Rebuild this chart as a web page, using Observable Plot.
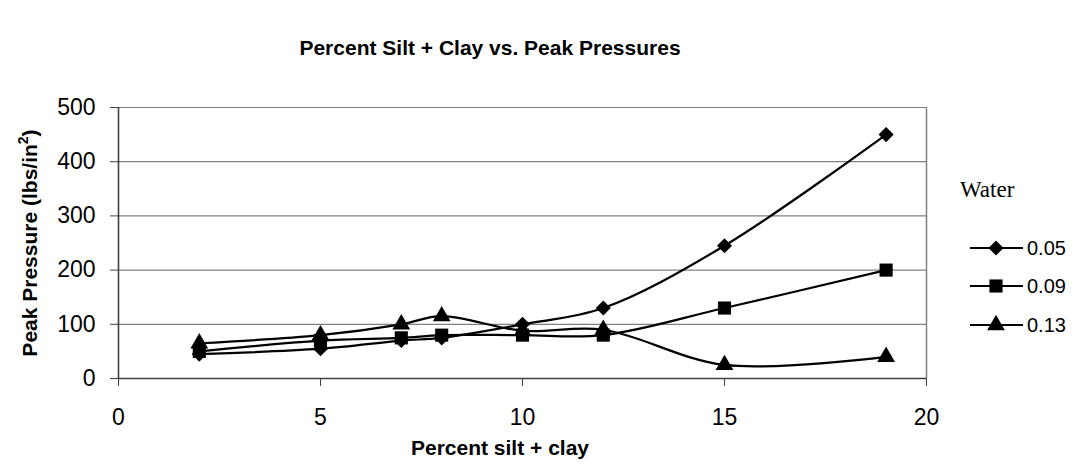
<!DOCTYPE html>
<html>
<head>
<meta charset="utf-8">
<script src="https://cdn.jsdelivr.net/npm/d3@7"></script>
<script src="https://cdn.jsdelivr.net/npm/@observablehq/plot@0.6"></script>
<style>
  html, body { margin: 0; padding: 0; background: white; }
  #wrap { position: relative; width: 1090px; height: 468px; }
</style>
</head>
<body>
<div id="wrap"></div>
<script>
// ---- data ----
const silt = [2, 5, 7, 8, 10, 12, 15, 19];
const water005 = [45, 55, 70, 75, 100, 130, 245, 450];
const water009 = [50, 70, 75, 80, 80, 80, 130, 200];
const water013 = [65, 80, 100, 115, 88, 90, 25, 40];
const seriesNames = ["0.05", "0.09", "0.13"];
const seriesSymbols = ["diamond2", "square", "triangle"];
const xTicks = [0, 5, 10, 15, 20];
const yTicks = [0, 100, 200, 300, 400, 500];

const seriesValues = [water005, water009, water013];
const rows = [];
seriesNames.forEach((name, i) => {
  silt.forEach((x, j) => rows.push({ series: name, x, y: seriesValues[i][j] }));
});

const sans = "'Liberation Sans', Arial, sans-serif";
const serif = "'Liberation Serif', 'Times New Roman', serif";
const radius = { "0.05": 6.8, "0.09": 7.4, "0.13": 6.6 };

const chart = Plot.plot({
  width: 1090,
  height: 468,
  marginLeft: 118,
  marginRight: 164,
  marginTop: 107,
  marginBottom: 90,
  style: { fontFamily: sans, fontSize: "23px", color: "black", background: "white", overflow: "visible" },
  x: { domain: [0, 20], label: null },
  y: { domain: [0, 500], label: null },
  r: { type: "identity" },
  symbol: { domain: seriesNames, range: seriesSymbols },
  marks: [
    Plot.ruleY(yTicks.slice(1), { stroke: "#808080", strokeWidth: 1.2 }),
    Plot.ruleX([20], { stroke: "#808080", strokeWidth: 1.5 }),
    Plot.ruleY([0], { stroke: "#404040", strokeWidth: 1.6 }),
    Plot.ruleX([0], { stroke: "#404040", strokeWidth: 1.6 }),
    Plot.axisX({ ticks: xTicks, tickSize: 8, tickPadding: 22, tickFormat: d3.format("d"), stroke: "#404040", fontSize: 23 }),
    Plot.axisY({ ticks: yTicks, tickSize: 8, tickPadding: 15, tickFormat: d3.format("d"), stroke: "#404040", fontSize: 23 }),
    Plot.line(rows, { x: "x", y: "y", z: "series", curve: "catmull-rom", stroke: "black", strokeWidth: 2.2 }),
    Plot.dot(rows, { x: "x", y: "y", symbol: "series", r: d => radius[d.series], fill: "black", stroke: "none" })
  ]
});

document.getElementById("wrap").appendChild(chart);
const svg = d3.select(chart);

// title
svg.append("text")
  .attr("x", 490).attr("y", 55)
  .attr("text-anchor", "middle")
  .attr("font-family", sans).attr("font-weight", "bold").attr("font-size", 21)
  .attr("fill", "black")
  .text("Percent Silt + Clay vs. Peak Pressures");

// x axis title
svg.append("text")
  .attr("x", 500).attr("y", 455)
  .attr("text-anchor", "middle")
  .attr("font-family", sans).attr("font-weight", "bold").attr("font-size", 21)
  .attr("fill", "black")
  .text("Percent silt + clay");

// y axis title
const yt = svg.append("text")
  .attr("transform", "translate(37,243) rotate(-90)")
  .attr("text-anchor", "middle")
  .attr("font-family", sans).attr("font-weight", "bold").attr("font-size", 21)
  .attr("fill", "black");
yt.append("tspan").text("Peak Pressure (lbs/in");
yt.append("tspan").attr("font-size", 14).attr("dy", -9).text("2");
yt.append("tspan").attr("dy", 9).text(")");

// legend
const lg = svg.append("g");
lg.append("text")
  .attr("x", 960).attr("y", 197)
  .attr("text-anchor", "start")
  .attr("font-family", serif).attr("font-size", 23).attr("fill", "black")
  .text("Water");
const legendY = [248, 286, 325];
seriesNames.forEach((name, i) => {
  const y = legendY[i];
  lg.append("line").attr("x1", 970).attr("x2", 1023).attr("y1", y).attr("y2", y)
    .attr("stroke", "black").attr("stroke-width", 2.2);
  const symType = [d3.symbolDiamond2, d3.symbolSquare, d3.symbolTriangle][i];
  const r = radius[name];
  lg.append("path")
    .attr("transform", `translate(996,${y})`)
    .attr("d", d3.symbol(symType, r * r * Math.PI)())
    .attr("fill", "black");
  lg.append("text")
    .attr("x", 1027).attr("y", y + 7)
    .attr("text-anchor", "start")
    .attr("font-family", sans).attr("font-size", 20).attr("fill", "black")
    .text(name);
});
</script>
</body>
</html>
